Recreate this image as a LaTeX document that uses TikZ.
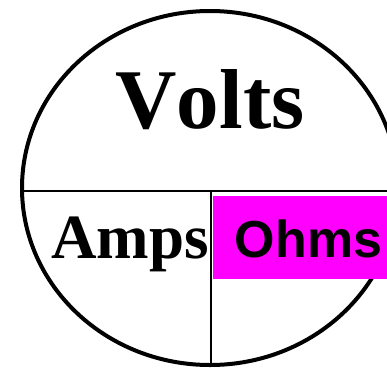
\documentclass[tikz,border=0pt]{standalone}
\usepackage{fontspec}
\setmainfont{Liberation Serif}
\newfontfamily\arialfont{Liberation Sans}
\newfontfamily\serifnokern[Kerning=Off]{Liberation Serif}
\definecolor{ohmmagenta}{RGB}{255,0,255}
\tikzset{
  px/.style={x=1pt,y=-1pt},
  rim/.style={line width=4pt},
  divider/.style={line width=2pt},
  serifbig/.style={inner sep=0pt,anchor=base,font=\serifnokern\fontsize{85}{85}\selectfont\bfseries},
  serifmid/.style={inner sep=0pt,anchor=base,font=\fontsize{63}{63}\selectfont\bfseries},
  sanslabel/.style={inner sep=0pt,anchor=base,font=\arialfont\fontsize{52}{52}\selectfont\bfseries},
  ohmbox/.style={fill=ohmmagenta,draw=none}
}
\begin{document}
\begin{tikzpicture}[px]
\useasboundingbox (0,0) rectangle (387,370);
\clip (0,0) rectangle (387,370);
\fill[white] (0,0) rectangle (387,370);
\coordinate (c) at (210,188);
\coordinate (hl) at (22,191);
\coordinate (hr) at (390,191);
\coordinate (vt) at (211,191);
\coordinate (vb) at (211,365);
\draw[rim] (c) ellipse [x radius=188, y radius=177];
\draw[divider] (hl) -- (hr);
\draw[divider] (vt) -- (vb);
\fill[ohmbox] (213,196) rectangle (390,279);
\node[serifbig] (volts) at (210,128) {Volts};
\node[serifmid] (amps) at (130,258) {Amps};
\node[sanslabel] (ohms) at (308.5,257) {Ohms};
\end{tikzpicture}
\end{document}
